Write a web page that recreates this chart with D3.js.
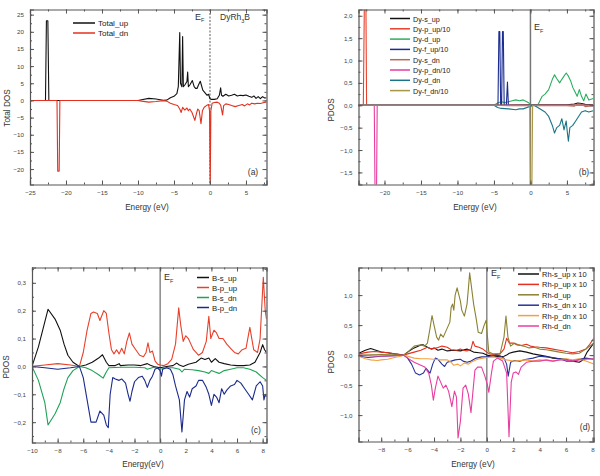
<!DOCTYPE html>
<html>
<head>
<meta charset="utf-8">
<script src="https://cdn.jsdelivr.net/npm/d3@7"></script>
<style>
  body { margin: 0; background: #fff; }
  svg { display: block; font-family: "Liberation Sans", Arial, sans-serif; }
</style>
</head>
<body>
<svg id="chart" width="600" height="476"></svg>
<script>
// ---- panel (a) total DOS ----
var totalUp = [[-25,0],[-22.85,0],[-22.72,23.2],[-22.52,23.2],[-22.38,0],[-10,0],[-9.5,0.2],[-8.5,0.6],[-7.5,0.4],[-6.5,0.05],[-6,0.1],[-5.5,0.8],[-5,1.2],[-4.6,2],[-4.4,4],[-4.3,12],[-4.2,19.8],[-4.1,5],[-3.9,4],[-3.8,18.6],[-3.7,4],[-3.5,4.5],[-3.2,5.5],[-3.1,8.3],[-3,4],[-2.8,4.5],[-2.45,5.8],[-2.2,4],[-2,3.5],[-1.8,3.5],[-1.6,4.5],[-1.35,5.6],[-1.2,4.5],[-1,3],[-0.8,2.5],[-0.6,2],[-0.4,1.5],[-0.2,1.8],[0,0.5],[0.2,0.3],[0.6,0.3],[1,0.5],[1.3,1.5],[1.48,3.7],[1.6,1.5],[1.8,1.2],[2.2,1.8],[2.6,1.3],[3,1.5],[3.4,1.8],[3.8,1.3],[4.2,1.5],[4.6,1.4],[5,1.6],[5.4,1.2],[5.8,0.9],[6.1,1.3],[6.4,0.6],[6.7,1.1],[7,0.5],[7.3,1.1],[7.6,0.7],[7.85,0.8]];
var totalDn = [[-25,0],[-21.25,0],[-21.15,-20.6],[-20.95,-20.6],[-20.85,0],[-10,0],[-9.5,-0.2],[-8.5,-0.5],[-7.5,-0.3],[-6.5,-0.05],[-6,-0.2],[-5.5,-0.8],[-5,-1.2],[-4.5,-1.5],[-4.2,-2.5],[-4,-3.5],[-3.8,-2],[-3.5,-2.8],[-3.2,-2.2],[-3,-3],[-2.8,-2.5],[-2.5,-3.5],[-2.1,-5.8],[-1.9,-4],[-1.7,-2.5],[-1.5,-3],[-1.25,-6.8],[-1.05,-3],[-0.8,-2],[-0.5,-1.5],[-0.2,-1.2],[-0.06,-3],[0.03,-26],[0.12,-3],[0.3,-0.8],[0.6,-0.6],[1,-0.5],[1.3,-0.8],[1.5,-1.5],[1.75,-4.2],[1.9,-1.5],[2.2,-1],[2.6,-1.2],[3,-1.5],[3.5,-1.8],[4,-1.5],[4.5,-1.2],[4.8,-1.6],[5.2,-1],[5.5,-1.3],[5.8,-0.8],[6.2,-1],[6.6,-0.8],[7,-0.9],[7.5,-0.6],[7.85,-0.5]];
var aXTicks = [-25,-20,-15,-10,-5,0,5];
var aYTicks = [-20,-15,-10,-5,0,5,10,15,20,25];

// ---- panel (b) Dy PDOS ----
var dySUp = [[-23.6,0],[-5,0],[-3,0.005],[0,0.01],[3,0.01],[5,0.01],[6,0.03],[6.5,0.05],[7,0.04],[7.5,0.02],[8.6,0.01]];
var dyPUp = [[-23.6,0],[-22.9,0],[-22.75,2.4],[-22.55,2.4],[-22.45,0],[8.6,0]];
var dyDUp = [[-23.6,0],[-5,0],[-4.5,0.05],[-4,0.08],[-3.5,0.06],[-3,0.08],[-2.5,0.1],[-2,0.12],[-1.5,0.1],[-1,0.12],[-0.5,0.08],[-0.2,0.05],[0,0.02],[0.5,0],[1,0],[1.3,0.1],[1.6,0.2],[2,0.25],[2.5,0.35],[3,0.58],[3.3,0.68],[3.6,0.6],[4,0.5],[4.3,0.58],[4.6,0.65],[4.9,0.72],[5.2,0.65],[5.5,0.55],[5.8,0.4],[6.1,0.3],[6.4,0.2],[6.7,0.35],[7,0.2],[7.3,0.1],[7.6,0.25],[8,0.12],[8.6,0.15]];
var dyFUp = [[-23.6,0],[-4.45,0],[-4.32,1.65],[-4.2,1.65],[-4.08,0],[-3.95,0],[-3.83,1.65],[-3.72,1.65],[-3.6,0],[-3.3,0],[-3.15,0.52],[-3.02,0],[8.6,0]];
var dySDn = [[-23.6,0],[-5,0],[-3,-0.01],[0,-0.01],[3,-0.01],[5,-0.01],[6,-0.02],[6.5,0.03],[7,0.02],[7.5,-0.03],[8.6,-0.01]];
var dyPDn = [[-23.6,0],[-21.4,0],[-21.28,-2.2],[-21.1,-2.2],[-21,0],[8.6,0]];
var dyDDn = [[-23.6,0],[-5,0],[-4.5,-0.05],[-4,-0.07],[-3,-0.08],[-2,-0.1],[-1.5,-0.08],[-1,-0.08],[0,-0.02],[0.5,0],[1,-0.05],[1.5,-0.1],[2,-0.15],[2.5,-0.25],[3,-0.45],[3.3,-0.62],[3.6,-0.5],[4,-0.45],[4.3,-0.3],[4.6,-0.55],[4.9,-0.35],[5.05,-0.6],[5.2,-0.8],[5.4,-0.5],[5.8,-0.45],[6.2,-0.35],[6.6,-0.25],[7,-0.15],[7.5,-0.12],[8,-0.15],[8.6,-0.12]];
var dyFDn = [[-23.6,0],[-0.1,0],[0.02,-2.2],[0.18,-2.2],[0.3,0],[8.6,0]];
var bXTicks = [-20,-15,-10,-5,0,5];
var bYTicks = [-1.5,-1,-0.5,0,0.5,1,1.5,2];

// ---- panel (c) B PDOS ----
var bSUp = [[-10,0],[-9.5,0.07],[-9,0.16],[-8.75,0.205],[-8.2,0.17],[-7.8,0.13],[-7.5,0.08],[-7.2,0.04],[-6.8,0.015],[-6.3,0],[-5.8,0.005],[-5.3,0.015],[-4.8,0.03],[-4.5,0.042],[-4.2,0.015],[-4,0.003],[-3.5,0.003],[-3.2,0.01],[-3.1,0.003],[-2.5,0.005],[-2,0.005],[-1.5,0.003],[-1,0.01],[-0.8,0.005],[-0.5,0],[0,-0.005],[0.5,0],[1,0.003],[1.3,0.012],[1.5,0.005],[1.8,0],[2.2,0.008],[2.8,0.015],[3.2,0.03],[3.5,0.025],[3.8,0.03],[4,0.015],[4.3,0.028],[4.6,0.015],[5,0.01],[5.5,0.005],[6,0.003],[6.5,0.003],[7,0.005],[7.4,0.015],[7.8,0.05],[8,0.078],[8.15,0.06],[8.3,0.05]];
var bPUp = [[-10,0],[-9,0.005],[-8,0.01],[-7,0.005],[-6.3,0],[-6,0.05],[-5.7,0.13],[-5.4,0.19],[-5.2,0.195],[-4.9,0.19],[-4.7,0.165],[-4.4,0.2],[-4.2,0.19],[-4,0.12],[-3.8,0.06],[-3.6,0.045],[-3.4,0.06],[-3.2,0.045],[-3,0.065],[-2.8,0.045],[-2.6,0.09],[-2.4,0.12],[-2.2,0.08],[-1.9,0.06],[-1.6,0.04],[-1.3,0.035],[-1.1,0.05],[-0.95,0.085],[-0.8,0.05],[-0.6,0.055],[-0.4,0.02],[-0.2,0.008],[0,0.005],[0.3,0.003],[0.6,0.01],[0.9,0.025],[1.2,0.08],[1.45,0.21],[1.6,0.15],[1.8,0.09],[2,0.11],[2.2,0.1],[2.4,0.08],[2.6,0.06],[2.8,0.05],[3,0.04],[3.3,0.05],[3.6,0.09],[3.8,0.18],[3.95,0.1],[4.2,0.13],[4.4,0.12],[4.6,0.1],[4.9,0.1],[5.2,0.08],[5.5,0.065],[5.8,0.05],[6.1,0.045],[6.4,0.06],[6.7,0.065],[7,0.14],[7.3,0.06],[7.6,0.05],[7.8,0.1],[8.05,0.32],[8.2,0.2],[8.3,0.17]];
var bSDn = [[-10,0],[-9.5,-0.05],[-9,-0.13],[-8.75,-0.21],[-8.2,-0.17],[-7.8,-0.13],[-7.5,-0.08],[-7.2,-0.04],[-6.8,-0.015],[-6.3,0],[-5.8,-0.005],[-5.3,-0.015],[-4.8,-0.03],[-4.45,-0.042],[-4.2,-0.02],[-4,-0.005],[-3,-0.003],[-2,-0.003],[-1.2,-0.005],[-1,-0.01],[-0.5,-0.003],[0,-0.01],[0.5,-0.005],[1,-0.005],[1.5,-0.01],[1.7,-0.02],[1.9,-0.01],[2.5,-0.012],[3,-0.015],[3.5,-0.02],[3.8,-0.025],[4,-0.015],[4.3,-0.02],[4.6,-0.025],[5,-0.015],[5.5,-0.01],[6,-0.005],[6.5,-0.005],[7,-0.01],[7.5,-0.02],[8,-0.04],[8.3,-0.05]];
var bPDn = [[-10,0],[-9,-0.005],[-8,-0.01],[-7,-0.005],[-6.3,0],[-6,-0.04],[-5.7,-0.12],[-5.4,-0.2],[-5,-0.2],[-4.7,-0.16],[-4.4,-0.175],[-4.2,-0.21],[-4.05,-0.22],[-3.9,-0.1],[-3.7,-0.04],[-3.5,-0.045],[-3.2,-0.05],[-3,-0.045],[-2.7,-0.06],[-2.5,-0.1],[-2.35,-0.125],[-2.2,-0.09],[-2,-0.055],[-1.7,-0.04],[-1.4,-0.035],[-1.2,-0.05],[-1,-0.075],[-0.8,-0.05],[-0.6,-0.035],[-0.4,-0.01],[-0.2,-0.005],[0,-0.015],[0.1,-0.035],[0.2,-0.01],[0.5,-0.005],[0.8,-0.01],[1,-0.03],[1.2,-0.07],[1.5,-0.12],[1.7,-0.235],[1.9,-0.12],[2.1,-0.09],[2.3,-0.11],[2.5,-0.08],[2.8,-0.07],[3,-0.05],[3.3,-0.05],[3.6,-0.075],[3.8,-0.1],[4,-0.14],[4.2,-0.1],[4.4,-0.11],[4.6,-0.13],[4.8,-0.08],[5,-0.1],[5.2,-0.085],[5.5,-0.07],[5.8,-0.065],[6,-0.05],[6.3,-0.06],[6.6,-0.08],[6.9,-0.1],[7.2,-0.12],[7.5,-0.07],[7.8,-0.055],[8,-0.07],[8.1,-0.12],[8.2,-0.1],[8.3,-0.11]];
var cXTicks = [-10,-8,-6,-4,-2,0,2,4,6,8];
var cYTicks = [-0.2,-0.1,0,0.1,0.2,0.3];

// ---- panel (d) Rh PDOS ----
var rhSUp = [[-9.7,0.03],[-9.2,0.08],[-8.8,0.11],[-8.4,0.08],[-8,0.05],[-7.5,0.04],[-7,0.02],[-6.3,0],[-6,0.05],[-5.5,0.12],[-5,0.17],[-4.8,0.17],[-4.5,0.13],[-4.2,0.1],[-4,0.12],[-3.7,0.08],[-3.4,0.1],[-3,0.07],[-2.5,0.08],[-2,0.07],[-1.5,0.1],[-1,0.05],[-0.6,0.04],[-0.3,0.03],[0,0],[0.5,-0.02],[1,-0.03],[1.3,-0.02],[1.5,0],[1.7,0.03],[2,0.05],[2.5,0.07],[3,0.05],[3.5,0.02],[4,0],[4.5,-0.02],[5,-0.05],[5.5,-0.06],[6,-0.07],[6.5,-0.1],[7,-0.12],[7.3,-0.08],[7.6,0.05],[8.1,0.2]];
var rhPUp = [[-9.7,0.02],[-9,0.05],[-8.5,0.06],[-8,0.05],[-7.5,0.04],[-7,0.02],[-6.3,0],[-6,0.02],[-5.5,0.05],[-5,0.08],[-4.5,0.13],[-4.2,0.1],[-3.8,0.12],[-3.4,0.15],[-3,0.13],[-2.7,0.09],[-2.3,0.08],[-2,0.1],[-1.8,0.08],[-1.5,0.07],[-1.2,0.1],[-1.05,0.23],[-0.9,0.15],[-0.6,0.13],[-0.3,0.1],[0,0.05],[0.2,0.02],[0.5,0.01],[1,0.02],[1.3,0.1],[1.5,0.28],[1.7,0.2],[2,0.2],[2.3,0.17],[2.6,0.16],[3,0.18],[3.3,0.15],[3.6,0.14],[4,0.13],[4.5,0.12],[5,0.1],[5.5,0.08],[6,0.06],[6.5,0.04],[7,0.06],[7.5,0.1],[7.8,0.18],[8.1,0.28]];
var rhDUp = [[-9.7,0],[-8,0.01],[-6.3,0],[-6,0.05],[-5.5,0.15],[-5,0.17],[-4.7,0.15],[-4.5,0.2],[-4.3,0.45],[-4.15,0.66],[-4,0.5],[-3.8,0.3],[-3.65,0.25],[-3.5,0.35],[-3.3,0.3],[-3,0.45],[-2.8,0.55],[-2.7,0.8],[-2.6,0.85],[-2.5,0.75],[-2.4,1],[-2.25,1.12],[-2,0.9],[-1.9,0.75],[-1.7,0.65],[-1.5,0.85],[-1.4,1.1],[-1.3,1.37],[-1.2,1.2],[-1,0.85],[-0.8,0.6],[-0.65,0.38],[-0.4,0.36],[-0.2,0.5],[-0.05,0.58],[0.05,0.3],[0.15,0.05],[0.5,0.02],[1,0.02],[1.3,0.3],[1.45,0.65],[1.6,0.3],[1.8,0.15],[2.1,0.2],[2.4,0.17],[2.8,0.15],[3.2,0.12],[3.6,0.13],[4,0.1],[4.5,0.09],[5,0.07],[5.5,0.05],[6,0.03],[6.5,0.02],[7,0.03],[7.5,0.1],[8.1,0.2]];
var rhSDn = [[-9.7,-0.02],[-9,-0.04],[-8,-0.02],[-7,-0.01],[-6.3,0],[-6,-0.05],[-5.7,-0.15],[-5.4,-0.3],[-5.1,-0.33],[-4.8,-0.3],[-4.6,-0.22],[-4.3,-0.3],[-4.1,-0.15],[-3.9,-0.05],[-3.7,-0.07],[-3.4,-0.15],[-3.2,-0.19],[-3,-0.12],[-2.7,-0.1],[-2.4,-0.08],[-2,-0.07],[-1.8,-0.1],[-1.5,-0.12],[-1.2,-0.1],[-0.8,-0.05],[-0.4,-0.03],[0,-0.03],[0.3,-0.02],[0.7,0],[1,-0.01],[1.3,-0.05],[1.5,-0.15],[1.62,-0.35],[1.8,-0.12],[2.1,-0.09],[2.5,-0.1],[3,-0.07],[3.5,-0.05],[4,-0.02],[4.5,-0.03],[5,-0.04],[5.5,-0.06],[6,-0.1],[6.5,-0.1],[7,-0.07],[7.5,-0.05],[8.1,-0.07]];
var rhPDn = [[-9.7,-0.02],[-9.2,-0.06],[-8.8,-0.08],[-8.3,-0.09],[-8,-0.08],[-7.5,-0.07],[-7,-0.04],[-6.5,-0.02],[-6.3,0],[-6,-0.02],[-5.5,-0.05],[-5,-0.06],[-4.5,-0.06],[-4,-0.07],[-3.5,-0.08],[-3,-0.08],[-2.7,-0.12],[-2.5,-0.17],[-2.2,-0.15],[-2,-0.18],[-1.7,-0.13],[-1.4,-0.15],[-1.2,-0.12],[-1,-0.1],[-0.7,-0.07],[-0.3,-0.05],[0,-0.04],[0.5,-0.03],[1,-0.05],[1.5,-0.08],[2,-0.1],[2.5,-0.09],[3,-0.08],[3.5,-0.1],[4,-0.08],[4.5,-0.09],[5,-0.1],[5.5,-0.08],[6,-0.06],[6.5,-0.08],[7,-0.06],[7.5,-0.1],[8.1,-0.15]];
var rhDDn = [[-9.7,0],[-9,-0.01],[-8,-0.02],[-7,-0.01],[-6.3,0],[-6,-0.05],[-5.5,-0.12],[-5,-0.17],[-4.7,-0.2],[-4.4,-0.3],[-4.2,-0.5],[-4.05,-0.75],[-3.9,-0.55],[-3.7,-0.35],[-3.5,-0.45],[-3.3,-0.55],[-3.1,-0.5],[-2.9,-0.6],[-2.75,-0.75],[-2.65,-0.86],[-2.45,-0.6],[-2.3,-0.7],[-2.18,-1.38],[-2,-1.1],[-1.8,-0.55],[-1.6,-0.5],[-1.4,-0.65],[-1.2,-0.96],[-1.05,-0.6],[-0.9,-0.25],[-0.7,-0.2],[-0.4,-0.2],[-0.15,-0.35],[0.05,-0.5],[0.15,-0.62],[0.35,-0.3],[0.5,-0.1],[0.8,-0.05],[1.2,-0.1],[1.5,-0.3],[1.68,-1.36],[1.85,-0.45],[2,-0.3],[2.2,-0.28],[2.4,-0.32],[2.6,-0.2],[3,-0.12],[3.5,-0.1],[4,-0.1],[4.5,-0.08],[5,-0.1],[5.5,-0.08],[6,-0.08],[6.5,-0.1],[7,-0.08],[7.5,-0.07],[8.1,-0.06]];
var dXTicks = [-8,-6,-4,-2,0,2,4,6,8];
var dYTicks = [-1,-0.5,0,0.5,1];

var svg = d3.select("#chart");
var comma = function(v) { return d3.format(".1f")(v).replace(".", ","); };

function drawPanel(p) {
    var x = d3.scaleLinear().domain(p.xDom).range([p.left, p.right]);
    var y = d3.scaleLinear().domain(p.yDom).range([p.bottom, p.top]);
    var g = svg.append("g");

    g.append("clipPath").attr("id", "clip" + p.id)
        .append("rect").attr("x", p.left).attr("y", p.top)
        .attr("width", p.right - p.left).attr("height", p.bottom - p.top);

    // fermi line
    g.append("line")
        .attr("x1", x(0)).attr("x2", x(0)).attr("y1", p.top).attr("y2", p.bottom)
        .attr("stroke", "#777").attr("stroke-width", p.efWidth)
        .attr("stroke-dasharray", p.efDash);

    var line = d3.line().x(function(d) { return x(d[0]); }).y(function(d) { return y(d[1]); });
    var lines = g.append("g").attr("clip-path", "url(#clip" + p.id + ")");
    p.series.forEach(function(s) {
        lines.append("path").datum(s.data).attr("d", line)
            .attr("fill", "none").attr("stroke", s.color).attr("stroke-width", 1.1)
            .attr("stroke-linejoin", "round");
    });

    // axes, origin style: ticks inside on all four sides
    var tk = 4, mtk = 2;
    var axB = d3.axisBottom(x).tickValues(p.xTicks).tickSize(-tk).tickPadding(6).tickFormat(p.xFmt);
    var axT = d3.axisTop(x).tickValues(p.xTicks).tickSize(-tk).tickFormat("");
    var axL = d3.axisLeft(y).tickValues(p.yTicks).tickSize(-tk).tickPadding(6).tickFormat(p.yFmt);
    var axR = d3.axisRight(y).tickValues(p.yTicks).tickSize(-tk).tickFormat("");
    var mx = d3.range(p.xDom[0], p.xDom[1], p.xMinor).map(function(v) { return Math.round(v / p.xMinor) * p.xMinor; })
        .filter(function(v) { return v > p.xDom[0] && v < p.xDom[1]; });
    var myy = d3.range(Math.ceil(p.yDom[0] / p.yMinor) * p.yMinor, p.yDom[1], p.yMinor);
    var parts = [
        [axB, "translate(0," + p.bottom + ")", d3.axisBottom(x).tickValues(mx).tickSize(-mtk).tickFormat("")],
        [axT, "translate(0," + p.top + ")", d3.axisTop(x).tickValues(mx).tickSize(-mtk).tickFormat("")],
        [axL, "translate(" + p.left + ",0)", d3.axisLeft(y).tickValues(myy).tickSize(-mtk).tickFormat("")],
        [axR, "translate(" + p.right + ",0)", d3.axisRight(y).tickValues(myy).tickSize(-mtk).tickFormat("")]
    ];
    parts.forEach(function(pt) {
        var a = g.append("g").attr("transform", pt[1]).call(pt[2]);
        a.select(".domain").remove();
        a.selectAll("line").attr("stroke", "#555");
        var b = g.append("g").attr("transform", pt[1]).call(pt[0]);
        b.select(".domain").attr("stroke", "#555").attr("stroke-width", 1.2);
        b.selectAll("line").attr("stroke", "#555");
        b.selectAll("text").attr("font-size", 6.2).attr("fill", "#444");
    });

    // titles
    g.append("text").attr("x", p.xLabel[1]).attr("y", p.xLabel[2])
        .attr("text-anchor", "middle").attr("font-size", 8.2).attr("fill", "#333").text(p.xLabel[0]);
    g.append("text").attr("transform", "translate(" + p.yLabel[1] + "," + p.yLabel[2] + ") rotate(-90)")
        .attr("text-anchor", "middle").attr("font-size", 8.2).attr("fill", "#333").text(p.yLabel[0]);

    // E_F label
    var ef = g.append("text").attr("x", p.ef[0]).attr("y", p.ef[1]).attr("font-size", 9).attr("fill", "#333");
    ef.append("tspan").text("E");
    ef.append("tspan").attr("font-size", 5.5).attr("dy", 2.5).text("F");

    g.append("text").attr("x", p.tag[0]).attr("y", p.tag[1]).attr("text-anchor", "middle")
        .attr("font-size", 8.5).attr("fill", "#333").text(p.tag[2]);

    // legend
    p.series.forEach(function(s, i) {
        var ly = p.leg.y + i * p.leg.dy;
        g.append("line").attr("x1", p.leg.x).attr("x2", p.leg.x + p.leg.w)
            .attr("y1", ly).attr("y2", ly).attr("stroke", s.color).attr("stroke-width", 1.5);
        g.append("text").attr("x", p.leg.x + p.leg.w + 3).attr("y", ly + 3)
            .attr("font-size", p.leg.fs).attr("fill", "#222").text(s.name);
    });
    return g;
}

var intFmt = d3.format("d");

var ga = drawPanel({
    id: "a", left: 30, right: 266.5, top: 9.5, bottom: 184.5,
    xDom: [-25, 7.85], yDom: [-24.5, 26.5], xTicks: aXTicks, yTicks: aYTicks,
    xMinor: 2.5, yMinor: 2.5, xFmt: intFmt, yFmt: intFmt,
    efWidth: 1.2, efDash: "2,1.5",
    xLabel: ["Energy (eV)", 147, 210], yLabel: ["Total DOS", 10, 108],
    ef: [195, 19.5], tag: [253, 175, "(a)"],
    leg: { x: 73, y: 23, dy: 10, w: 22, fs: 8 },
    series: [
        { name: "Total_up", color: "#111111", data: totalUp },
        { name: "Total_dn", color: "#e3301f", data: totalDn }
    ]
});
var t = ga.append("text").attr("x", 220).attr("y", 20).attr("font-size", 8.5).attr("fill", "#333");
t.append("tspan").text("DyRh");
t.append("tspan").attr("font-size", 5.5).attr("dy", 2.5).text("3");
t.append("tspan").attr("dy", -2.5).text("B");

drawPanel({
    id: "b", left: 358.5, right: 593.5, top: 9.5, bottom: 184.5,
    xDom: [-23.56, 8.64], yDom: [-1.77, 2.14], xTicks: bXTicks, yTicks: bYTicks,
    xMinor: 2.5, yMinor: 0.25, xFmt: intFmt, yFmt: comma,
    efWidth: 1.5, efDash: null,
    xLabel: ["Energy (eV)", 475, 210], yLabel: ["PDOS", 334, 110],
    ef: [534, 30], tag: [584, 175, "(b)"],
    leg: { x: 390, y: 18.5, dy: 10.3, w: 20, fs: 7.2 },
    series: [
        { name: "Dy-s_up", color: "#111111", data: dySUp },
        { name: "Dy-p_up/10", color: "#e8402a", data: dyPUp },
        { name: "Dy-d_up", color: "#2aae5e", data: dyDUp },
        { name: "Dy-f_up/10", color: "#1b2d92", data: dyFUp },
        { name: "Dy-s_dn", color: "#b86a58", data: dySDn },
        { name: "Dy-p_dn/10", color: "#e63c9e", data: dyPDn },
        { name: "Dy-d_dn", color: "#1a7486", data: dyDDn },
        { name: "Dy-f_dn/10", color: "#a89648", data: dyFDn }
    ]
});

drawPanel({
    id: "c", left: 32, right: 266.5, top: 267.5, bottom: 442.5,
    xDom: [-10, 8.3], yDom: [-0.273, 0.355], xTicks: cXTicks, yTicks: cYTicks,
    xMinor: 1, yMinor: 0.05, xFmt: intFmt, yFmt: comma,
    efWidth: 1.3, efDash: null,
    xLabel: ["Energy(eV)", 143, 467], yLabel: ["PDOS", 9, 367],
    ef: [164, 280], tag: [256, 433, "(c)"],
    leg: { x: 197, y: 277.5, dy: 10, w: 12, fs: 7.8 },
    series: [
        { name: "B-s_up", color: "#111111", data: bSUp },
        { name: "B-p_up", color: "#e8402a", data: bPUp },
        { name: "B-s_dn", color: "#1fa257", data: bSDn },
        { name: "B-p_dn", color: "#1b2a8c", data: bPDn }
    ]
});

drawPanel({
    id: "d", left: 358.5, right: 593.5, top: 267.5, bottom: 441.5,
    xDom: [-9.72, 8.08], yDom: [-1.44, 1.46], xTicks: dXTicks, yTicks: dYTicks,
    xMinor: 1, yMinor: 0.25, xFmt: intFmt, yFmt: comma,
    efWidth: 1.3, efDash: null,
    xLabel: ["Energy (eV)", 473, 467], yLabel: ["PDOS", 334, 362],
    ef: [491, 276], tag: [585, 430, "(d)"],
    leg: { x: 518, y: 274, dy: 10.4, w: 21, fs: 7.5 },
    series: [
        { name: "Rh-s_up x 10", color: "#111111", data: rhSUp },
        { name: "Rh-p_up x 10", color: "#e63020", data: rhPUp },
        { name: "Rh-d_up", color: "#8a8232", data: rhDUp },
        { name: "Rh-s_dn x 10", color: "#27339a", data: rhSDn },
        { name: "Rh-p_dn x 10", color: "#f4a040", data: rhPDn },
        { name: "Rh-d_dn", color: "#e83ea0", data: rhDDn }
    ]
});
</script>
</body>
</html>
